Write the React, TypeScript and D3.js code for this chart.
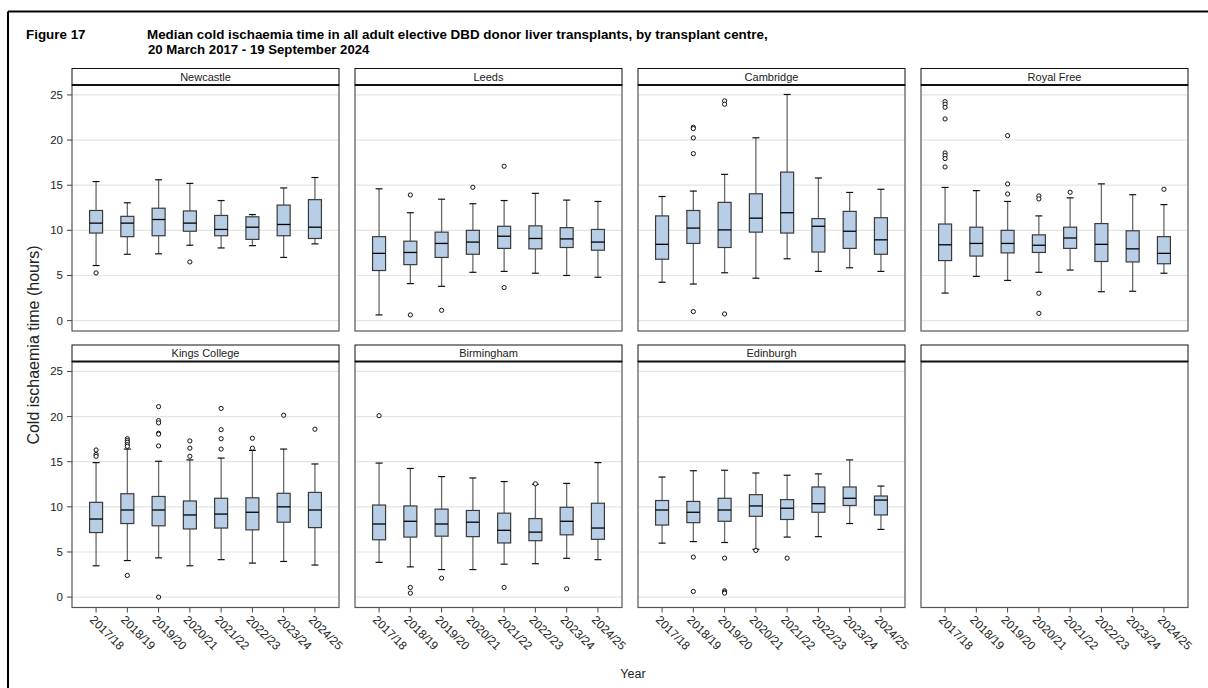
import React from "react";
import * as d3 from "d3";

const years = ["2017/18", "2018/19", "2019/20", "2020/21", "2021/22", "2022/23", "2023/24", "2024/25"];
const centres = ["Newcastle", "Leeds", "Cambridge", "Royal Free", "Kings College", "Birmingham", "Edinburgh", ""];
const yTicks = [0, 5, 10, 15, 20, 25];

// [lower whisker, Q1, median, Q3, upper whisker] per year
const newcastleBoxes = [
  [6.1, 9.7, 10.8, 12.2, 15.4], [7.35, 9.3, 10.8, 11.55, 13.05], [7.4, 9.4, 11.2, 12.45, 15.6], [8.35, 9.9, 10.8, 12.15, 15.2],
  [8.05, 9.4, 10.1, 11.65, 13.3], [8.3, 9.0, 10.35, 11.5, 11.75], [7.0, 9.4, 10.65, 12.8, 14.7], [8.5, 9.1, 10.35, 13.4, 15.85],
];
const newcastleOut = [[5.28], [], [], [6.5], [], [], [], []];

const leedsBoxes = [
  [0.63, 5.55, 7.45, 9.3, 14.6], [4.1, 6.2, 7.55, 8.8, 11.95], [3.8, 7.0, 8.55, 9.8, 13.45], [5.35, 7.35, 8.7, 10.0, 12.95],
  [5.45, 8.0, 9.35, 10.45, 13.3], [5.25, 7.95, 9.1, 10.5, 14.1], [5.0, 8.1, 9.05, 10.3, 13.35], [4.8, 7.8, 8.7, 10.1, 13.2],
];
const leedsOut = [[], [13.92, 0.63], [1.14], [14.77], [17.1, 3.66], [], [], []];

const cambridgeBoxes = [
  [4.25, 6.8, 8.45, 11.6, 13.75], [4.05, 8.55, 10.25, 12.2, 14.35], [5.3, 8.1, 10.05, 13.1, 16.2], [4.7, 9.8, 11.35, 14.05, 20.25],
  [6.85, 9.7, 11.95, 16.45, 25.05], [5.45, 7.6, 10.45, 11.3, 15.8], [5.85, 8.0, 9.9, 12.1, 14.2], [5.45, 7.35, 8.95, 11.4, 14.55],
];
const cambridgeOut = [[], [21.42, 21.27, 20.24, 18.5, 1.0], [24.34, 23.97, 0.74], [], [], [], [], []];

const royalFreeBoxes = [
  [3.05, 6.65, 8.4, 10.7, 14.75], [4.9, 7.15, 8.55, 10.35, 14.4], [4.45, 7.5, 8.55, 10.0, 13.2], [5.35, 7.55, 8.35, 9.5, 11.6],
  [5.6, 8.0, 9.15, 10.35, 13.6], [3.2, 6.55, 8.45, 10.75, 15.15], [3.25, 6.5, 7.95, 9.95, 13.95], [5.25, 6.3, 7.45, 9.3, 12.85],
];
const royalFreeOut = [
  [24.26, 23.97, 23.63, 22.34, 18.57, 18.28, 17.95, 17.02], [], [20.49, 15.14, 14.03], [13.81, 13.48, 3.03, 0.81],
  [14.22], [], [], [14.55],
];

const kingsBoxes = [
  [3.47, 7.15, 8.65, 10.5, 14.9], [4.05, 8.15, 9.65, 11.45, 16.4], [4.35, 7.9, 9.65, 11.15, 15.05], [3.47, 7.55, 9.1, 10.65, 15.2],
  [4.15, 7.65, 9.2, 10.95, 15.4], [3.77, 7.45, 9.4, 11.0, 16.25], [3.95, 8.3, 10.0, 11.5, 16.4], [3.55, 7.7, 9.65, 11.6, 14.75],
];
const kingsOut = [
  [16.3, 15.8, 15.6], [17.55, 17.35, 17.15, 16.9, 16.7, 2.4], [21.1, 19.55, 19.3, 18.15, 18.05, 16.75, 0.0], [17.3, 16.5, 15.6],
  [20.9, 18.55, 17.55, 16.4], [17.6, 16.5], [20.15], [18.6],
];

const birminghamBoxes = [
  [3.85, 6.35, 8.1, 10.2, 14.85], [3.35, 6.65, 8.4, 10.1, 14.25], [3.05, 6.75, 8.1, 9.75, 13.35], [3.05, 6.7, 8.3, 9.6, 13.2],
  [3.65, 6.0, 7.4, 9.3, 12.8], [3.7, 6.25, 7.2, 8.7, 12.5], [4.3, 6.9, 8.4, 9.95, 12.6], [4.15, 6.4, 7.65, 10.4, 14.9],
];
const birminghamOut = [[20.1], [1.07, 0.44], [2.1], [], [1.07], [12.55], [0.92], []];

const edinburghBoxes = [
  [5.98, 7.98, 9.65, 10.7, 13.3], [6.15, 8.25, 9.4, 10.6, 14.0], [6.05, 8.4, 9.65, 10.95, 14.05], [5.3, 8.95, 10.1, 11.35, 13.75],
  [6.65, 8.6, 9.85, 10.8, 13.5], [6.7, 9.4, 10.35, 12.2, 13.65], [8.15, 10.15, 10.95, 12.2, 15.2], [7.5, 9.1, 10.75, 11.2, 12.3],
];
const edinburghOut = [[], [4.43, 0.63], [4.32, 0.7, 0.55, 0.44], [5.17], [4.32], [], [], []];

const boxesByCentre = [newcastleBoxes, leedsBoxes, cambridgeBoxes, royalFreeBoxes, kingsBoxes, birminghamBoxes, edinburghBoxes, []];
const outliersByCentre = [newcastleOut, leedsOut, cambridgeOut, royalFreeOut, kingsOut, birminghamOut, edinburghOut, []];

const W = 1208;
const H = 688;
const colX0 = 72;
const colStep = 283;
const panelW = 267;
const rowTop0 = 68.5;
const rowStep = 276.5;
const headerH = 16.5;
const plotH = 246;
const boxW = 13;
const capW = 7;
const font = "Arial, 'Liberation Sans', Helvetica, sans-serif";

function Panel({ idx }: { idx: number }) {
  const col = idx % 4;
  const row = Math.floor(idx / 4);
  const x0 = colX0 + col * colStep;
  const top = rowTop0 + row * rowStep;
  const plotTop = top + headerH;
  const plotBottom = plotTop + plotH;
  const x = d3.scalePoint<string>().domain(years).range([x0, x0 + panelW]).padding(0.77);
  const y = d3.scaleLinear().domain([-1.15, 26.1]).range([plotBottom, plotTop]);
  const boxes = boxesByCentre[idx];
  const outs = outliersByCentre[idx];
  const hasData = boxes.length > 0;
  return (
    <g>
      {hasData &&
        yTicks.map((t) => (
          <line key={t} x1={x0} x2={x0 + panelW} y1={y(t)} y2={y(t)} stroke="#e4e4e4" strokeWidth={1.2} />
        ))}
      {boxes.map((b, i) => {
        const cx = x(years[i])!;
        return (
          <g key={i}>
            <line x1={cx} x2={cx} y1={y(b[4])} y2={y(b[3])} stroke="#6a6a6a" strokeWidth={1.3} />
            <line x1={cx} x2={cx} y1={y(b[1])} y2={y(b[0])} stroke="#6a6a6a" strokeWidth={1.3} />
            <line x1={cx - capW / 2} x2={cx + capW / 2} y1={y(b[4])} y2={y(b[4])} stroke="#111" strokeWidth={1.2} />
            <line x1={cx - capW / 2} x2={cx + capW / 2} y1={y(b[0])} y2={y(b[0])} stroke="#111" strokeWidth={1.2} />
            <rect x={cx - boxW / 2} y={y(b[3])} width={boxW} height={y(b[1]) - y(b[3])} fill="#b8cee6" stroke="#3a3a3a" strokeWidth={1.2} />
            <line x1={cx - boxW / 2} x2={cx + boxW / 2} y1={y(b[2])} y2={y(b[2])} stroke="#000" strokeWidth={1.3} />
            {outs[i].map((o, j) => (
              <circle key={j} cx={cx} cy={y(o)} r={2.1} fill="#fff" stroke="#111" strokeWidth={1} />
            ))}
          </g>
        );
      })}
      <rect x={x0} y={plotTop} width={panelW} height={plotH} fill="none" stroke="#555" strokeWidth={1.2} />
      <rect x={x0} y={top} width={panelW} height={headerH} fill="#fff" stroke="#111" strokeWidth={1} />
      <line x1={x0} x2={x0 + panelW} y1={plotTop} y2={plotTop} stroke="#111" strokeWidth={2} />
      <text x={x0 + panelW / 2} y={top + 12} textAnchor="middle" fontSize={11} fontFamily={font} fill="#222">
        {centres[idx]}
      </text>
      {col === 0 &&
        yTicks.map((t) => (
          <g key={t}>
            <line x1={x0 - 5} x2={x0} y1={y(t)} y2={y(t)} stroke="#444" />
            <text x={x0 - 9} y={y(t) + 4} textAnchor="end" fontSize={11.5} fontFamily={font} fill="#222">
              {t}
            </text>
          </g>
        ))}
      {row === 1 &&
        years.map((yr) => {
          const cx = x(yr)!;
          return (
            <g key={yr}>
              <line x1={cx} x2={cx} y1={plotBottom} y2={plotBottom + 5} stroke="#444" />
              <text transform={`translate(${cx - 7},${plotBottom + 13}) rotate(45)`} fontSize={11.8} fontFamily={font} fill="#222">
                {yr}
              </text>
            </g>
          );
        })}
    </g>
  );
}

export default function App() {
  return (
    <svg width={W} height={H} style={{ position: "absolute", left: 0, top: 0, background: "#fff" }}>
      <rect x={0} y={0} width={W} height={H} fill="#fff" />
      <line x1={8} x2={W + 5} y1={11.5} y2={11.5} stroke="#000" strokeWidth={2} />
      <line x1={8} x2={8} y1={11.5} y2={H + 5} stroke="#000" strokeWidth={2} />
      <text x={26} y={39} fontSize={13.4} fontWeight="bold" fontFamily={font}>Figure 17</text>
      <text x={147} y={39} fontSize={13.4} fontWeight="bold" fontFamily={font}>
        Median cold ischaemia time in all adult elective DBD donor liver transplants, by transplant centre,
      </text>
      <text x={148} y={54} fontSize={13.2} fontWeight="bold" fontFamily={font}>20 March 2017 - 19 September 2024</text>
      {centres.map((_, i) => (
        <Panel key={i} idx={i} />
      ))}
      <text transform="translate(39,345) rotate(-90)" textAnchor="middle" fontSize={16} fontFamily={font} fill="#222">
        Cold ischaemia time (hours)
      </text>
      <text x={633} y={678} textAnchor="middle" fontSize={12.5} fontFamily={font} fill="#222">Year</text>
    </svg>
  );
}
